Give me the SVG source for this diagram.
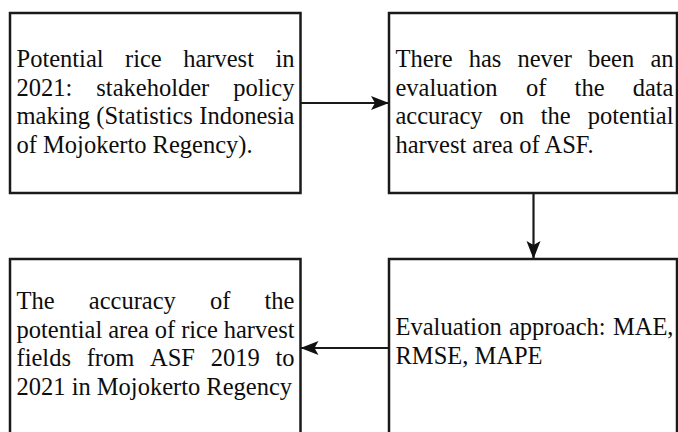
<svg xmlns="http://www.w3.org/2000/svg" width="678" height="432" viewBox="0 0 678 432">
<style>
.box{fill:#fff;stroke:#1a1a1a;stroke-width:2.5}
.t{font-family:"Liberation Serif","Times New Roman",serif;font-size:24.5px;fill:#0d0d0d}
.e{text-anchor:end}
.c{stroke:#1a1a1a;stroke-width:2.2;fill:none}
</style>
<defs>
<marker id="ah" markerUnits="userSpaceOnUse" markerWidth="19" markerHeight="16" refX="18" refY="8" orient="auto">
<path d="M0,1 L18,8 L0,15 L4,8 Z" fill="#111"/>
</marker>
</defs>
<rect width="678" height="432" fill="#fff"/>
<g id="connectors">
<line class="c" x1="300.5" y1="103" x2="389" y2="103" marker-end="url(#ah)"/>
<line class="c" x1="533.5" y1="193" x2="533.5" y2="259" marker-end="url(#ah)"/>
<line class="c" x1="389" y1="348" x2="300.5" y2="348" marker-end="url(#ah)"/>
</g>
<g id="node1">
<rect class="box" x="10" y="13" width="290.5" height="180"/>
<text class="t" y="67"><tspan x="16.5">Potential</tspan><tspan x="125.0">rice</tspan><tspan x="183.2">harvest</tspan></text>
<text class="t e" x="294.5" y="67">in</text>
<text class="t" y="95.5"><tspan x="16.5">2021:</tspan><tspan x="96.3">stakeholder</tspan></text>
<text class="t e" x="294.5" y="95.5">policy</text>
<text class="t" y="124"><tspan x="16.5">making</tspan><tspan x="96.25">(Statistics</tspan></text>
<text class="t e" x="294.5" y="124">Indonesia</text>
<text class="t" x="16.5" y="152.5">of Mojokerto Regency).</text>
</g>
<g id="node2">
<rect class="box" x="389" y="13" width="288" height="180"/>
<text class="t" y="67"><tspan x="395.5">There</tspan><tspan x="468.7">has</tspan><tspan x="517.5">never</tspan><tspan x="588.0">been</tspan></text>
<text class="t e" x="673.5" y="67">an</text>
<text class="t" y="95.5"><tspan x="395.5">evaluation</tspan><tspan x="525.9">of</tspan><tspan x="574.6">the</tspan></text>
<text class="t e" x="673.5" y="95.5">data</text>
<text class="t" y="124"><tspan x="395.5">accuracy</tspan><tspan x="499.4">on</tspan><tspan x="540.8">the</tspan></text>
<text class="t e" x="673.5" y="124">potential</text>
<text class="t" x="395.5" y="152.5">harvest area of ASF.</text>
</g>
<g id="node3">
<rect class="box" x="10" y="259" width="290.5" height="180"/>
<text class="t" y="309"><tspan x="16.5">The</tspan><tspan x="88.8">accuracy</tspan><tspan x="210.0">of</tspan></text>
<text class="t e" x="294.5" y="309">the</text>
<text class="t" y="337.5"><tspan x="16.5">potential</tspan><tspan x="108.15">area</tspan><tspan x="154.85">of</tspan><tspan x="181.15">rice</tspan></text>
<text class="t e" x="294.5" y="337.5">harvest</text>
<text class="t" y="366"><tspan x="16.5">fields</tspan><tspan x="86.65">from</tspan><tspan x="150.0">ASF</tspan><tspan x="210.65">2019</tspan></text>
<text class="t e" x="294.5" y="366">to</text>
<text class="t" x="16.5" y="394.5">2021 in Mojokerto Regency</text>
</g>
<g id="node4">
<rect class="box" x="389" y="259" width="288" height="180"/>
<text class="t" y="335"><tspan x="395.5">Evaluation</tspan><tspan x="509.0">approach:</tspan></text>
<text class="t e" x="673.5" y="335">MAE,</text>
<text class="t" x="395.5" y="363.5">RMSE, MAPE</text>
</g>
</svg>
